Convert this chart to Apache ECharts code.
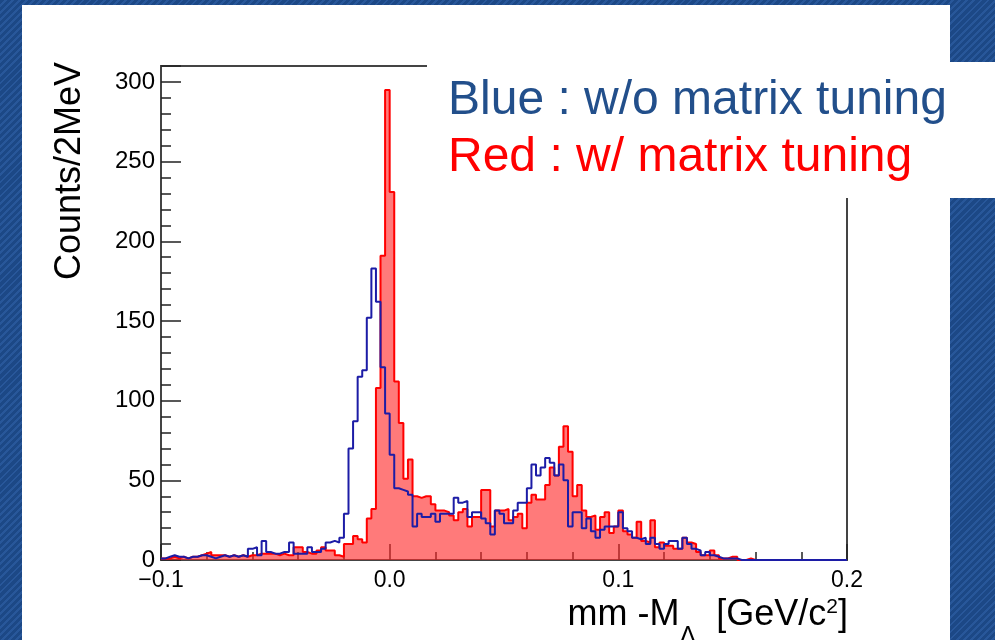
<!DOCTYPE html>
<html>
<head>
<meta charset="utf-8">
<script src="https://cdn.jsdelivr.net/npm/echarts@6/dist/echarts.min.js"></script>
<style>
  html, body { margin: 0; padding: 0; }
  body {
    width: 995px; height: 640px; overflow: hidden; position: relative;
    background-color: #1f4c8c;
    background-image: repeating-linear-gradient(135deg, #1c4886 0px, #1c4886 3px, #28579a 3px, #28579a 5px);
  }
  #panel { position: absolute; left: 22px; top: 5px; width: 928px; height: 640px; background: #fff; }
  #chart { position: absolute; left: 0; top: 0; width: 995px; height: 640px; }
</style>
</head>
<body>
<div id="panel"></div>
<div id="chart"></div>
<script>
// histogram binning: 150 bins of 2 MeV from -0.1 to 0.2 GeV
const binStart = -0.1
const binWidth = 0.002

// blue : w/o matrix tuning (counts per bin)
const blueCounts = [
  1, 2, 3, 2, 2, 1, 2, 2, 3, 3,
  2, 1, 2, 3, 2, 3, 2, 3, 2, 7,
  8, 3, 12, 5, 4, 4, 5, 5, 11, 4,
  4, 4, 8, 5, 5, 7, 11, 12, 11, 14,
  29, 70, 87, 115, 119, 152, 183, 162, 121, 92,
  66, 45, 44, 43, 41, 21, 29, 27, 27, 29,
  24, 29, 29, 29, 39, 36, 37, 27, 30, 30,
  26, 23, 16, 31, 29, 23, 23, 31, 36, 36,
  45, 60, 53, 58, 64, 61, 53, 60, 50, 21,
  30, 30, 20, 26, 18, 14, 19, 21, 21, 21,
  30, 20, 18, 14, 13, 14, 10, 14, 10, 7,
  10, 12, 12, 7, 14, 10, 7, 6, 3, 5,
  3, 2, 1, 1, 1, 1, 0, 0, 0, 0,
  0, 0, 0, 0, 0, 0, 0, 0, 0, 0,
  0, 0, 0, 0, 0, 0, 0, 0, 0, 0
]

// red : w/ matrix tuning
const redCounts = [
  1, 1, 2, 1, 2, 1, 2, 2, 3, 4,
  5, 3, 3, 3, 2, 3, 2, 3, 2, 3,
  3, 4, 4, 4, 4, 3, 4, 3, 3, 8,
  8, 5, 4, 4, 6, 8, 6, 6, 3, 2,
  10, 10, 15, 13, 11, 26, 32, 108, 191, 295,
  231, 112, 86, 51, 63, 40, 39, 40, 40, 35,
  31, 31, 30, 28, 25, 30, 32, 21, 27, 27,
  44, 44, 21, 31, 31, 32, 25, 27, 29, 20,
  36, 41, 38, 38, 47, 58, 53, 71, 84, 68,
  40, 47, 31, 27, 28, 19, 27, 30, 17, 21,
  31, 18, 16, 14, 24, 12, 11, 25, 8, 11,
  9, 9, 7, 7, 14, 11, 10, 5, 3, 3,
  6, 3, 1, 1, 2, 2, 0, 0, 1, 0,
  0, 0, 0, 0, 0, 0, 0, 0, 0, 0,
  0, 0, 0, 0, 0, 0, 0, 0, 0, 0
]

const legendLines = ['Blue : w/o matrix tuning', 'Red : w/ matrix tuning']
const yTitle = 'Counts/2MeV'

const FONT = '"Liberation Sans", Arial, Helvetica, sans-serif'

// left bin edges + closing edge, for step lines
function toSteps(counts) {
  const pts = counts.map((c, i) => [binStart + i * binWidth, c])
  pts.push([binStart + counts.length * binWidth, counts[counts.length - 1]])
  return pts
}

const chart = echarts.init(document.getElementById('chart'), null, { renderer: 'canvas' })

chart.setOption({
  animation: false,
  backgroundColor: 'transparent',
  grid: {
    left: 161, right: 148, top: 66, bottom: 80,
    containLabel: false, outerBoundsMode: 'none',
    show: true, borderColor: '#444', borderWidth: 2, backgroundColor: 'transparent'
  },
  xAxis: {
    type: 'value', min: -0.1, max: 0.2, interval: 0.1,
    axisLine: { show: true, onZero: false, lineStyle: { color: '#444', width: 2 } },
    axisTick: { show: true, inside: true, length: 16, lineStyle: { color: '#222', width: 1.5 } },
    minorTick: { show: true, splitNumber: 5, length: 8, lineStyle: { color: '#222', width: 1.5 } },
    splitLine: { show: false },
    axisLabel: {
      margin: 9, color: '#000', fontFamily: FONT, fontSize: 23,
      formatter: v => v.toFixed(1).replace('-', '\u2212')
    }
  },
  yAxis: {
    type: 'value', min: 0, max: 310, interval: 50,
    axisLine: { show: true, onZero: false, lineStyle: { color: '#444', width: 2 } },
    axisTick: { show: true, inside: true, length: 20, lineStyle: { color: '#222', width: 1.5 } },
    minorTick: { show: true, splitNumber: 5, length: 10, lineStyle: { color: '#222', width: 1.5 } },
    splitLine: { show: false },
    axisLabel: { margin: 6, color: '#000', fontFamily: FONT, fontSize: 24, showMaxLabel: false }
  },
  series: [
    {
      name: 'red', type: 'line', step: 'end', showSymbol: false, z: 2,
      data: toSteps(redCounts),
      lineStyle: { color: '#ff0000', width: 2 },
      areaStyle: { color: 'rgba(255,40,40,0.62)', opacity: 1 }
    },
    {
      name: 'blue', type: 'line', step: 'end', showSymbol: false, z: 3,
      data: toSteps(blueCounts),
      lineStyle: { color: '#1c1ca6', width: 2 }
    }
  ],
  graphic: [
    { type: 'rect', z: 50, shape: { x: 427, y: 62, width: 568, height: 136 }, style: { fill: '#fff' } },
    {
      type: 'text', z: 60, x: 448, y: 101,
      style: { text: legendLines[0], fill: '#224f8b', font: '48px ' + FONT, align: 'left', verticalAlign: 'middle', textAlign: 'left', textVerticalAlign: 'middle' }
    },
    {
      type: 'text', z: 60, x: 448, y: 158,
      style: { text: legendLines[1], fill: '#ff0000', font: '48px ' + FONT, align: 'left', verticalAlign: 'middle', textAlign: 'left', textVerticalAlign: 'middle' }
    },
    {
      type: 'text', z: 60, x: 70, y: 62, rotation: Math.PI / 2,
      style: { text: yTitle, fill: '#000', font: '36px ' + FONT, align: 'right', verticalAlign: 'middle', textAlign: 'right', textVerticalAlign: 'middle' }
    },
    {
      type: 'text', z: 60, x: 848, y: 615,
      style: {
        text: '{n|mm -M}{s|\u039B}{n|  [GeV/c}{p|2}{n|]}',
        align: 'right', verticalAlign: 'middle', textAlign: 'right', textVerticalAlign: 'middle',
        fill: '#000', font: '36px ' + FONT,
        rich: {
          n: { fontSize: 36, fontFamily: FONT, fill: '#000', lineHeight: 40, verticalAlign: 'middle' },
          s: { fontSize: 25, fontFamily: FONT, fill: '#000', lineHeight: 25, verticalAlign: 'middle', padding: [44, 0, 0, 0] },
          p: { fontSize: 21, fontFamily: FONT, fill: '#000', lineHeight: 21, verticalAlign: 'middle', padding: [0, 0, 16, 0] }
        }
      }
    }
  ]
})
</script>
</body>
</html>
